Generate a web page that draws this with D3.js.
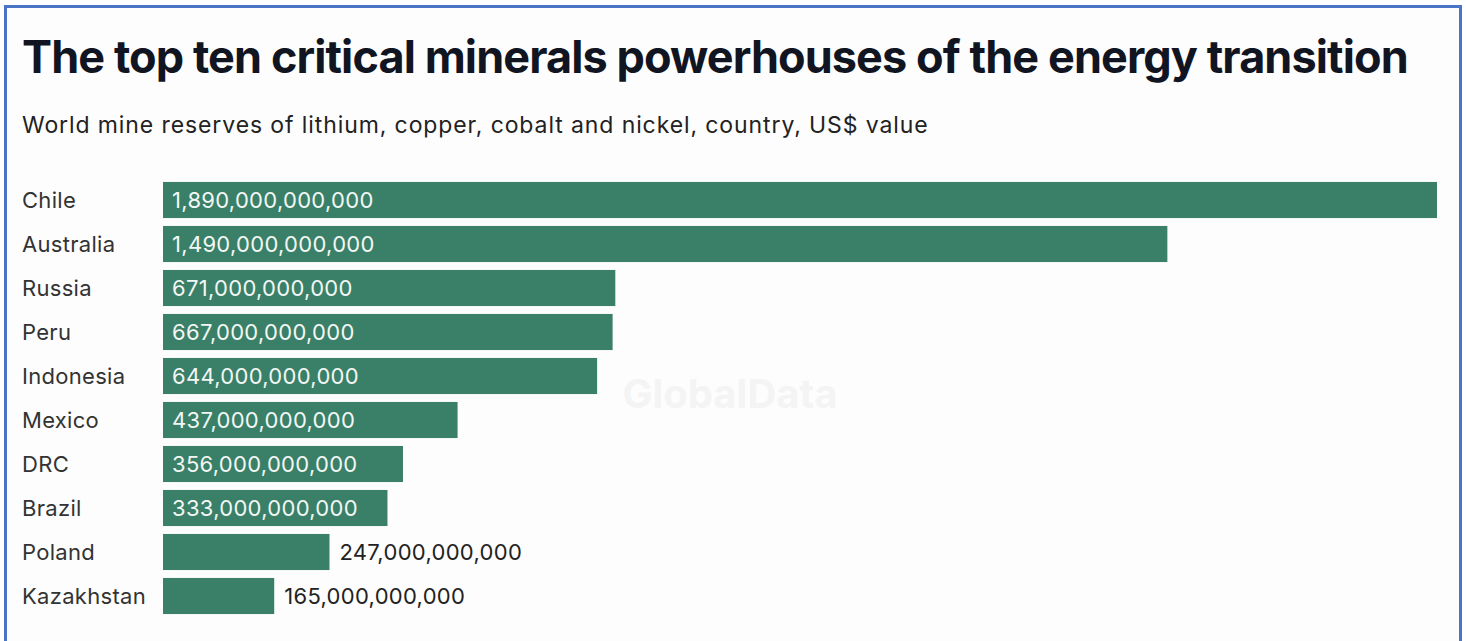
<!DOCTYPE html>
<html>
<head>
<meta charset="utf-8">
<script src="https://cdn.jsdelivr.net/npm/d3@7"></script>
<style>
  body { margin: 0; background: #fff; }
  svg { display: block; font-family: Inter, "Liberation Sans", sans-serif; }
</style>
</head>
<body>
<div id="chart"></div>
<script>
// chart data
const countries = ["Chile", "Australia", "Russia", "Peru", "Indonesia", "Mexico", "DRC", "Brazil", "Poland", "Kazakhstan"];
const values = [1890000000000, 1490000000000, 671000000000, 667000000000, 644000000000, 437000000000, 356000000000, 333000000000, 247000000000, 165000000000];

const title = "The top ten critical minerals powerhouses of the energy transition";
const subtitle = "World mine reserves of lithium, copper, cobalt and nickel, country, US$ value";

const data = countries.map((c, i) => ({ country: c, value: values[i] }));

const width = 1466, height = 641;

const svg = d3.select("#chart").append("svg")
    .attr("width", width)
    .attr("height", height);

// frame
svg.append("rect")
    .attr("x", 5.5).attr("y", 6.5)
    .attr("width", 1455).attr("height", 640)
    .attr("fill", "#fdfdfd")
    .attr("stroke", "#4a74c6")
    .attr("stroke-width", 3);

// faint watermark
svg.append("text")
    .attr("x", 730).attr("y", 408)
    .attr("text-anchor", "middle")
    .attr("font-size", 40).attr("font-weight", 700)
    .attr("fill", "#f4f4f4")
    .text("GlobalData");

svg.append("text")
    .attr("x", 22).attr("y", 73)
    .attr("font-size", 45).attr("font-weight", 700)
    .attr("letter-spacing", -0.9)
    .attr("fill", "#111522")
    .text(title);

svg.append("text")
    .attr("x", 22).attr("y", 133)
    .attr("font-size", 23)
    .attr("letter-spacing", 0.9)
    .attr("fill", "#222")
    .text(subtitle);

const x = d3.scaleLinear()
    .domain([0, 1890000000000])
    .range([163, 1437]);

const y = d3.scaleBand()
    .domain(countries)
    .range([178, 618])
    .paddingInner(0.18)
    .paddingOuter(0.09);

const fmt = d3.format(",.0f");

// country labels
svg.append("g")
    .selectAll("text")
    .data(data)
    .join("text")
    .attr("x", 22)
    .attr("y", d => y(d.country) + y.bandwidth() / 2)
    .attr("dy", "0.35em")
    .attr("font-size", 22)
    .attr("letter-spacing", 0.3)
    .attr("fill", "#333")
    .text(d => d.country);

// bars
svg.append("g")
    .selectAll("rect")
    .data(data)
    .join("rect")
    .attr("x", x(0))
    .attr("y", d => y(d.country))
    .attr("width", d => x(d.value) - x(0))
    .attr("height", y.bandwidth())
    .attr("fill", "#3a8068");

// value labels: inside when the bar is wide enough, else outside
svg.append("g")
    .selectAll("text")
    .data(data)
    .join("text")
    .attr("x", d => d.value > 300000000000 ? x(0) + 9 : x(d.value) + 10)
    .attr("y", d => y(d.country) + y.bandwidth() / 2)
    .attr("dy", "0.35em")
    .attr("font-size", 22)
    .attr("letter-spacing", 0.3)
    .attr("fill", d => d.value > 300000000000 ? "#f2f7f4" : "#222")
    .text(d => fmt(d.value));
</script>
</body>
</html>
